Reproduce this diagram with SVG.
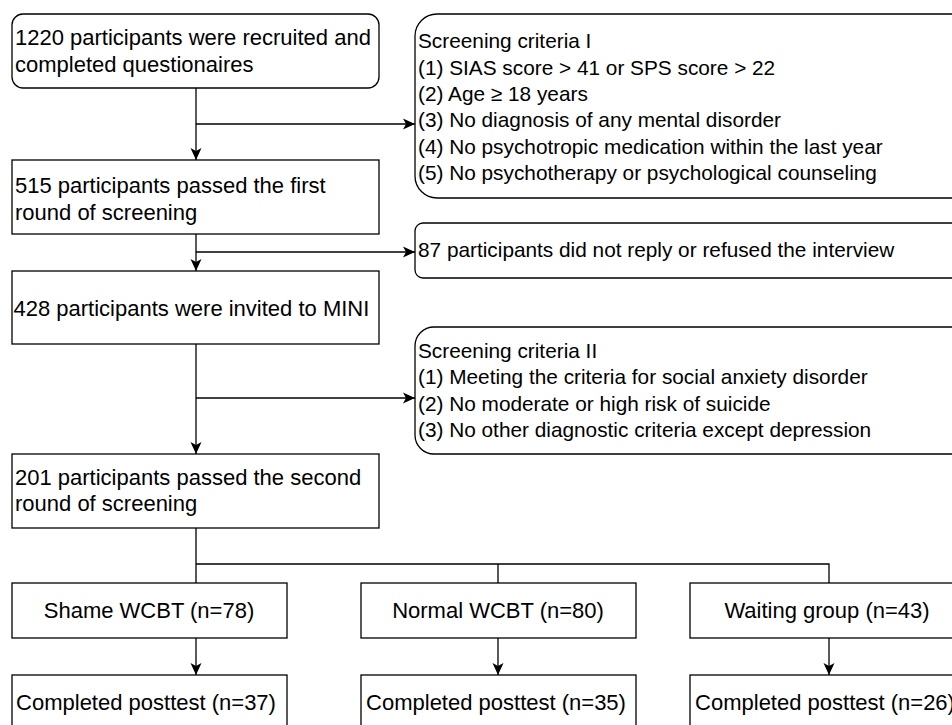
<svg xmlns="http://www.w3.org/2000/svg" width="952" height="725" viewBox="0 0 952 725">
<style>
.box{fill:#fff;stroke:#000;stroke-width:1.3}
.t{font-family:"Liberation Sans",Arial,Helvetica,sans-serif;font-size:22px;fill:#000}
.r{font-size:20.8px}
.c{text-anchor:middle}
.ln{fill:none;stroke:#000;stroke-width:1.3}
</style>
<defs>
<marker id="ah" markerUnits="userSpaceOnUse" markerWidth="12" markerHeight="12" viewBox="0 0 12 12" refX="12" refY="6" orient="auto">
<path d="M0,0.5 L12,6 L0,11.5 L3,6 Z" fill="#000"/>
</marker>
</defs>
<rect width="952" height="725" fill="#fff"/>
<g id="connectors">
<path class="ln" d="M196,88 V160" marker-end="url(#ah)"/>
<path class="ln" d="M196,124 H415" marker-end="url(#ah)"/>
<path class="ln" d="M196,234 V271" marker-end="url(#ah)"/>
<path class="ln" d="M196,252 H415" marker-end="url(#ah)"/>
<path class="ln" d="M196,344 V454" marker-end="url(#ah)"/>
<path class="ln" d="M196,398 H415" marker-end="url(#ah)"/>
<path class="ln" d="M196,528 V583 M196,564 H829 V583 M498,564 V583"/>
<path class="ln" d="M196,638 V675" marker-end="url(#ah)"/>
<path class="ln" d="M498,638 V675" marker-end="url(#ah)"/>
<path class="ln" d="M829,638 V675" marker-end="url(#ah)"/>
</g>
<g id="n1">
<rect class="box" x="12" y="14" width="367" height="74" rx="11"/>
<text class="t" x="15" y="45">1220 participants were recruited and</text>
<text class="t" x="15" y="71.5">completed questionaires</text>
</g>
<g id="crit1">
<rect class="box" x="415" y="14" width="560" height="184" rx="22"/>
<text class="t r" x="418" y="48">Screening criteria I</text>
<text class="t r" x="418" y="74.5">(1) SIAS score &gt; 41 or SPS score &gt; 22</text>
<text class="t r" x="418" y="101">(2) Age ≥ 18 years</text>
<text class="t r" x="418" y="127">(3) No diagnosis of any mental disorder</text>
<text class="t r" x="418" y="153.5">(4) No psychotropic medication within the last year</text>
<text class="t r" x="418" y="180">(5) No psychotherapy or psychological counseling</text>
</g>
<g id="n2">
<rect class="box" x="12" y="160" width="367" height="74"/>
<text class="t" x="15" y="193">515 participants passed the first</text>
<text class="t" x="15" y="219.5">round of screening</text>
</g>
<g id="excl">
<rect class="box" x="415" y="223" width="560" height="55" rx="8"/>
<text class="t r" x="418" y="256.5">87 participants did not reply or refused the interview</text>
</g>
<g id="n3">
<rect class="box" x="12" y="271" width="367" height="73"/>
<text class="t" x="13.5" y="315.5">428 participants were invited to MINI</text>
</g>
<g id="crit2">
<rect class="box" x="415" y="327" width="560" height="127" rx="19"/>
<text class="t r" x="418" y="357.5">Screening criteria II</text>
<text class="t r" x="418" y="384">(1) Meeting the criteria for social anxiety disorder</text>
<text class="t r" x="418" y="410.5">(2) No moderate or high risk of suicide</text>
<text class="t r" x="418" y="437">(3) No other diagnostic criteria except depression</text>
</g>
<g id="n4">
<rect class="box" x="12" y="454" width="367" height="74"/>
<text class="t" x="15" y="485">201 participants passed the second</text>
<text class="t" x="15" y="511">round of screening</text>
</g>
<g id="g1">
<rect class="box" x="12" y="583" width="275" height="55"/>
<text class="t c" x="149" y="617.5">Shame WCBT (n=78)</text>
</g>
<g id="g2">
<rect class="box" x="361" y="583" width="275" height="55"/>
<text class="t c" x="498" y="617.5">Normal WCBT (n=80)</text>
</g>
<g id="g3">
<rect class="box" x="690" y="583" width="275" height="55"/>
<text class="t c" x="827" y="617.5">Waiting group (n=43)</text>
</g>
<g id="p1">
<rect class="box" x="12" y="675" width="275" height="60"/>
<text class="t c" x="146" y="709.5">Completed posttest (n=37)</text>
</g>
<g id="p2">
<rect class="box" x="361" y="675" width="275" height="60"/>
<text class="t c" x="496" y="709.5">Completed posttest (n=35)</text>
</g>
<g id="p3">
<rect class="box" x="690" y="675" width="275" height="60"/>
<text class="t c" x="825" y="709.5">Completed posttest (n=26)</text>
</g>
</svg>
